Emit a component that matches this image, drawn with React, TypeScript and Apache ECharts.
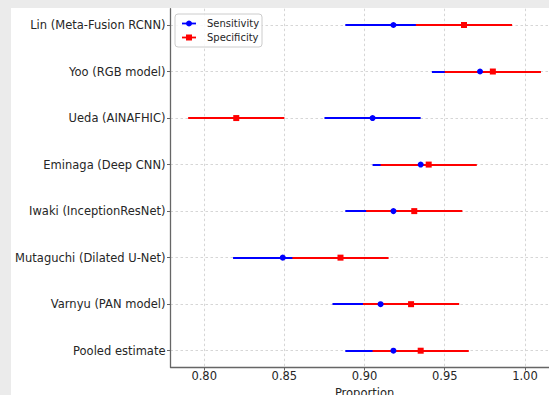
import React, { useEffect, useRef } from "react";
import * as echarts from "echarts";

const categories = [
  "Lin (Meta-Fusion RCNN)",
  "Yoo (RGB model)",
  "Ueda (AINAFHIC)",
  "Eminaga (Deep CNN)",
  "Iwaki (InceptionResNet)",
  "Mutaguchi (Dilated U-Net)",
  "Varnyu (PAN model)",
  "Pooled estimate",
];
const sensitivity = [0.918, 0.972, 0.905, 0.935, 0.918, 0.849, 0.91, 0.918];
const sensLower = [0.888, 0.942, 0.875, 0.905, 0.888, 0.818, 0.88, 0.888];
const sensUpper = [0.948, 1.002, 0.935, 0.965, 0.948, 0.879, 0.94, 0.948];
const specificity = [0.962, 0.98, 0.82, 0.94, 0.931, 0.885, 0.929, 0.935];
const specLower = [0.932, 0.95, 0.79, 0.91, 0.901, 0.855, 0.899, 0.905];
const specUpper = [0.992, 1.01, 0.85, 0.97, 0.961, 0.915, 0.959, 0.965];
const xTicks = [0.8, 0.85, 0.9, 0.95, 1.0];
const legendNames = ["Sensitivity", "Specificity"];

const BLUE = "#0000ff";
const RED = "#ff0000";
const TEXT = "#262626";
const FONT = "DejaVu Sans";

export default function App() {
  const ref = useRef<HTMLDivElement>(null);

  useEffect(() => {
    if (!ref.current) return;
    const chart = echarts.init(ref.current, null, { renderer: "svg" });

    const rowIdx = categories.map((_, i) => i);
    const barItem = (color: string) => (params: any, api: any) => {
      const lo = api.value(0);
      const hi = api.value(1);
      const y = api.value(2);
      const p1 = api.coord([lo, y]);
      const p2 = api.coord([hi, y]);
      const yy = Math.round(p1[1]);
      return {
        type: "line",
        shape: { x1: p1[0], y1: yy, x2: p2[0], y2: yy },
        style: { stroke: color, lineWidth: 2 },
      };
    };

    const option: any = {
      animation: false,
      textStyle: { fontFamily: FONT },
      grid: {
        left: 170.5,
        right: -9.6,
        top: 8.7,
        bottom: 28,
        containLabel: false,
        outerBoundsMode: "none",
      },
      xAxis: {
        type: "value",
        min: 0.779,
        max: 1.021,
        name: "Proportion",
        nameLocation: "middle",
        nameGap: 17.5,
        nameTextStyle: { color: TEXT, fontSize: 11.5, fontFamily: FONT },
        axisLine: { show: true, onZero: false, lineStyle: { color: "#666", width: 1.3 } },
        axisTick: {
          show: true,
          inside: false,
          length: 3.5,
          customValues: xTicks,
          lineStyle: { color: "#666", width: 1 },
        },
        axisLabel: {
          customValues: xTicks,
          color: TEXT,
          fontSize: 11.5,
          fontFamily: FONT,
          margin: 3,
          formatter: (v: number) => v.toFixed(2),
        },
        splitLine: {
          show: true,
          lineStyle: { color: "#d6d6d6", width: 1, type: [2.5, 2.5] },
        },
      },
      yAxis: {
        type: "value",
        inverse: true,
        min: -0.35,
        max: 7.35,
        axisLine: { show: true, onZero: false, lineStyle: { color: "#666", width: 1.3 } },
        axisTick: {
          show: true,
          inside: false,
          length: 3.5,
          customValues: rowIdx,
          lineStyle: { color: "#666", width: 1 },
        },
        axisLabel: {
          customValues: rowIdx,
          color: TEXT,
          fontSize: 11.5,
          fontFamily: FONT,
          margin: 5,
          formatter: (v: number) => categories[Math.round(v)] ?? "",
        },
        splitLine: {
          show: true,
          lineStyle: { color: "#d6d6d6", width: 1, type: [2.5, 2.5] },
        },
      },
      series: [
        {
          type: "custom",
          name: "Sensitivity CI",
          renderItem: barItem(BLUE),
          encode: { x: [0, 1], y: 2 },
          data: rowIdx.map((i) => [sensLower[i], sensUpper[i], i]),
          z: 2,
        },
        {
          type: "custom",
          name: "Specificity CI",
          renderItem: barItem(RED),
          encode: { x: [0, 1], y: 2 },
          data: rowIdx.map((i) => [specLower[i], specUpper[i], i]),
          z: 2,
        },
        {
          type: "scatter",
          name: legendNames[0],
          symbol: "circle",
          symbolSize: 6,
          itemStyle: { color: BLUE, opacity: 1 },
          data: rowIdx.map((i) => [sensitivity[i], i]),
          z: 3,
        },
        {
          type: "scatter",
          name: legendNames[1],
          symbol: "rect",
          symbolSize: 6,
          itemStyle: { color: RED, opacity: 1 },
          data: rowIdx.map((i) => [specificity[i], i]),
          z: 4,
        },
      ],
      graphic: [
        {
          type: "rect",
          z: 100,
          shape: { x: 175, y: 14, width: 87, height: 33, r: 3 },
          style: { fill: "rgba(255,255,255,0.85)", stroke: "#cccccc", lineWidth: 1 },
        },
        {
          type: "line",
          z: 101,
          shape: { x1: 182, y1: 23.5, x2: 196, y2: 23.5 },
          style: { stroke: BLUE, lineWidth: 1.8 },
        },
        {
          type: "circle",
          z: 102,
          shape: { cx: 189, cy: 23.5, r: 3 },
          style: { fill: BLUE },
        },
        {
          type: "text",
          z: 102,
          x: 207,
          y: 23.5,
          style: {
            text: legendNames[0],
            fill: TEXT,
            fontSize: 10,
            fontFamily: FONT,
            verticalAlign: "middle",
          },
        },
        {
          type: "line",
          z: 101,
          shape: { x1: 182, y1: 37.5, x2: 196, y2: 37.5 },
          style: { stroke: RED, lineWidth: 1.8 },
        },
        {
          type: "rect",
          z: 102,
          shape: { x: 186, y: 34.5, width: 6, height: 6 },
          style: { fill: RED },
        },
        {
          type: "text",
          z: 102,
          x: 207,
          y: 37.5,
          style: {
            text: legendNames[1],
            fill: TEXT,
            fontSize: 10,
            fontFamily: FONT,
            verticalAlign: "middle",
          },
        },
      ],
    };

    chart.setOption(option);
    return () => chart.dispose();
  }, []);

  return (
    <div
      style={{
        position: "absolute",
        left: 0,
        top: 0,
        width: 549,
        height: 395,
        background: "#ebebeb",
        overflow: "hidden",
      }}
    >
      <div
        style={{
          position: "absolute",
          left: 11,
          top: 8,
          width: 538,
          height: 387,
          background: "#ffffff",
        }}
      />
      <div
        ref={ref}
        style={{ position: "absolute", left: 0, top: 0, width: 549, height: 395 }}
      />
    </div>
  );
}
